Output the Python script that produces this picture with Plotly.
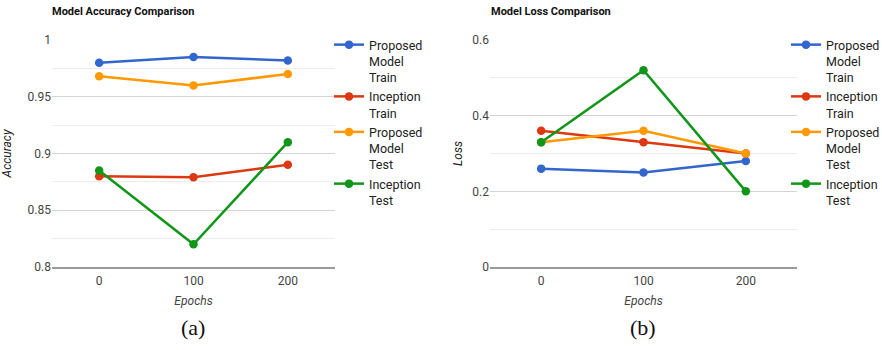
import plotly.graph_objects as go
from plotly.subplots import make_subplots

epochs = ["0", "100", "200"]

series_names = ["Proposed<br>Model<br>Train", "Inception<br>Train",
                "Proposed<br>Model<br>Test", "Inception<br>Test"]
series_colors = ["#3366cc", "#dc3912", "#ff9900", "#109618"]

# Accuracy per epoch
acc_proposed_train = [0.980, 0.985, 0.982]
acc_inception_train = [0.880, 0.879, 0.890]
acc_proposed_test = [0.968, 0.960, 0.970]
acc_inception_test = [0.885, 0.820, 0.910]

# Loss per epoch
loss_proposed_train = [0.26, 0.25, 0.28]
loss_inception_train = [0.36, 0.33, 0.30]
loss_proposed_test = [0.33, 0.36, 0.30]
loss_inception_test = [0.33, 0.52, 0.20]

acc_series = [acc_proposed_train, acc_inception_train, acc_proposed_test, acc_inception_test]
loss_series = [loss_proposed_train, loss_inception_train, loss_proposed_test, loss_inception_test]

FONT = "Roboto, Liberation Sans, Arial, sans-serif"

fig = make_subplots(rows=1, cols=2)

for name, color, ys in zip(series_names, series_colors, acc_series):
    fig.add_trace(go.Scatter(x=epochs, y=ys, name=name, mode="lines+markers",
                             line=dict(color=color, width=2.5),
                             marker=dict(size=8.5, color=color),
                             legend="legend"), row=1, col=1)
for name, color, ys in zip(series_names, series_colors, loss_series):
    fig.add_trace(go.Scatter(x=epochs, y=ys, name=name, mode="lines+markers",
                             line=dict(color=color, width=2.5),
                             marker=dict(size=8.5, color=color),
                             legend="legend2"), row=1, col=2)

H = 350.0
W = 882.0
ytop = 1 - 40 / H
ybot = 1 - 267 / H

axis_common = dict(tickfont=dict(family=FONT, size=12, color="#444"), zeroline=False,
                   automargin=False)

fig.update_xaxes(domain=[52 / W, 335 / W], row=1, col=1)
fig.update_xaxes(domain=[490 / W, 797 / W], row=1, col=2)
fig.update_xaxes(type="category", range=[-0.5, 2.5], showgrid=False,
                 showline=True, linecolor="#9a9a9a", linewidth=1.5,
                 ticks="", ticklabelstandoff=2,
                 title=dict(text="Epochs", standoff=9,
                            font=dict(family=FONT, size=12, color="#444", style="italic")),
                 **axis_common)

fig.update_yaxes(domain=[ybot, ytop])
fig.update_yaxes(range=[0.8, 1.0], dtick=0.05, tick0=0.8, row=1, col=1,
                 minor=dict(dtick=0.025, tick0=0.8, showgrid=True, gridcolor="#ececec"),
                 title=dict(text="Accuracy", standoff=13,
                            font=dict(family=FONT, size=12, color="#222", style="italic")),
                 showgrid=True, gridcolor="#d4d4d4", gridwidth=1.2, **axis_common)
fig.update_yaxes(range=[0, 0.6], dtick=0.2, tick0=0, row=1, col=2,
                 minor=dict(dtick=0.1, tick0=0, showgrid=True, gridcolor="#ececec"),
                 title=dict(text="Loss", standoff=7,
                            font=dict(family=FONT, size=12, color="#222", style="italic")),
                 showgrid=True, gridcolor="#d4d4d4", gridwidth=1.2, **axis_common)

legend_common = dict(font=dict(family=FONT, size=12.5, color="#222"), valign="top",
                     bgcolor="rgba(0,0,0,0)", tracegroupgap=4, itemwidth=30,
                     xanchor="left", yanchor="top")
fig.update_layout(
    legend=dict(x=329 / W, y=1 - 30 / H, **legend_common),
    legend2=dict(x=786 / W, y=1 - 30 / H, **legend_common),
)

annotations = [
    dict(text="<b>Model Accuracy Comparison</b>", x=50 / W, y=1 - 12 / H),
    dict(text="<b>Model Loss Comparison</b>", x=489 / W, y=1 - 12 / H),
]
for a in annotations:
    fig.add_annotation(xref="paper", yref="paper", xanchor="left", yanchor="middle",
                       showarrow=False, font=dict(family=FONT, size=11, color="#111"), **a)

for label, xc in [("(a)", 193), ("(b)", 643)]:
    fig.add_annotation(text=label, xref="paper", yref="paper", x=xc / W, y=1 - 327 / H,
                       xanchor="center", yanchor="middle", showarrow=False,
                       font=dict(family="Liberation Serif, Times New Roman, serif", size=22, color="#111"))

fig.update_layout(width=882, height=350,
                  margin=dict(l=0, r=0, t=0, b=0, autoexpand=False),
                  paper_bgcolor="white", plot_bgcolor="white")

fig.write_html("out.html")
